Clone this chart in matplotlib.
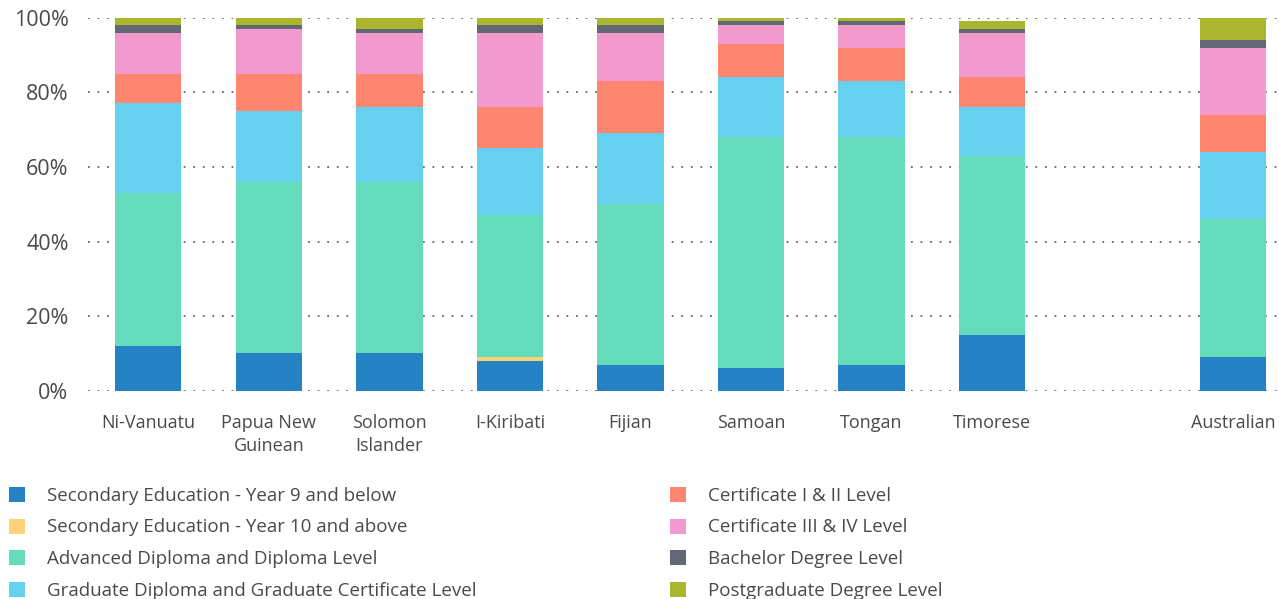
import numpy as np
import matplotlib
matplotlib.use("Agg")
import matplotlib.pyplot as plt
from matplotlib.patches import Rectangle

plt.rcParams["font.family"] = ["Open Sans", "DejaVu Sans"]

categories = ["Ni-Vanuatu", "Papua New\nGuinean", "Solomon\nIslander", "I-Kiribati",
              "Fijian", "Samoan", "Tongan", "Timorese", "Australian"]

series_names = [
    "Secondary Education - Year 9 and below",
    "Secondary Education - Year 10 and above",
    "Advanced Diploma and Diploma Level",
    "Graduate Diploma and Graduate Certificate Level",
    "Certificate I & II Level",
    "Certificate III & IV Level",
    "Bachelor Degree Level",
    "Postgraduate Degree Level",
]

# share of each group (%), one list per qualification level
sec_year9_below = [12, 10, 10, 8, 7, 6, 7, 15, 9]
sec_year10_above = [0, 0, 0, 1, 0, 0, 0, 0, 0]
adv_diploma = [41, 46, 46, 38, 43, 62, 61, 48, 37]
grad_diploma_cert = [24, 19, 20, 18, 19, 16, 15, 13, 18]
cert_1_2 = [8, 10, 9, 11, 14, 9, 9, 8, 10]
cert_3_4 = [11, 12, 11, 20, 13, 5, 6, 12, 18]
bachelor = [2, 1, 1, 2, 2, 1, 1, 1, 2]
postgraduate = [2, 2, 3, 2, 2, 1, 1, 2, 6]

y_ticks = [0, 20, 40, 60, 80, 100]

colors = ["#2582c5", "#fdd37a", "#64dcbc", "#66d1ef",
          "#fe8570", "#f299ce", "#626873", "#abb62f"]

values = [sec_year9_below, sec_year10_above, adv_diploma, grad_diploma_cert,
          cert_1_2, cert_3_4, bachelor, postgraduate]

text_color = "#4a4a4a"

fig = plt.figure(figsize=(12.79, 5.99), dpi=100)
W, H = 1279, 599
ax = fig.add_axes([88 / W, (H - 390.7) / H, 1 - 88 / W, (390.7 - 17.7) / H])

# the Australian comparison bar sits one slot further right
x = np.arange(len(categories), dtype=float)
x[-1] += 1

bottom = np.zeros(len(categories))
for name, vals, col in zip(series_names, values, colors):
    vals = np.asarray(vals, dtype=float)
    ax.bar(x, vals, width=0.55, bottom=bottom, color=col, label=name,
           zorder=2, linewidth=0)
    bottom += vals

ax.set_xlim(-0.5, 9.38)
ax.set_ylim(0, 100)
ax.set_yticks(y_ticks)
ax.set_yticklabels([f"{t}%" for t in y_ticks], fontsize=15.5)
ax.set_xticks(x)
ax.set_xticklabels(categories, linespacing=1.3, fontsize=13)

ax.grid(axis="y", color="#666666", linewidth=1.3, linestyle=(0, (1, 4.3)), zorder=1)
ax.grid(axis="x", visible=False)
for s in ax.spines.values():
    s.set_visible(False)
ax.tick_params(axis="both", length=0, colors=text_color)
ax.tick_params(axis="y", pad=14)
ax.tick_params(axis="x", pad=17)
ax.set_axisbelow(True)

# two-column legend laid out beneath the plot
col_x = [9, 670]
row_y = [494.5, 526, 557, 589]
for i, (name, col) in enumerate(zip(series_names, colors)):
    c, r = divmod(i, 4)
    x0 = col_x[c]
    yc = row_y[r]
    fig.patches.append(Rectangle((x0 / W, (H - yc - 7.5) / H), 16 / W, 15 / H,
                                 transform=fig.transFigure, color=col, linewidth=0))
    fig.text((x0 + 38.5) / W, (H - yc - 1.5) / H, name, fontsize=13.5,
             color=text_color, va="center", ha="left")

fig.savefig("out.png", dpi=100)
